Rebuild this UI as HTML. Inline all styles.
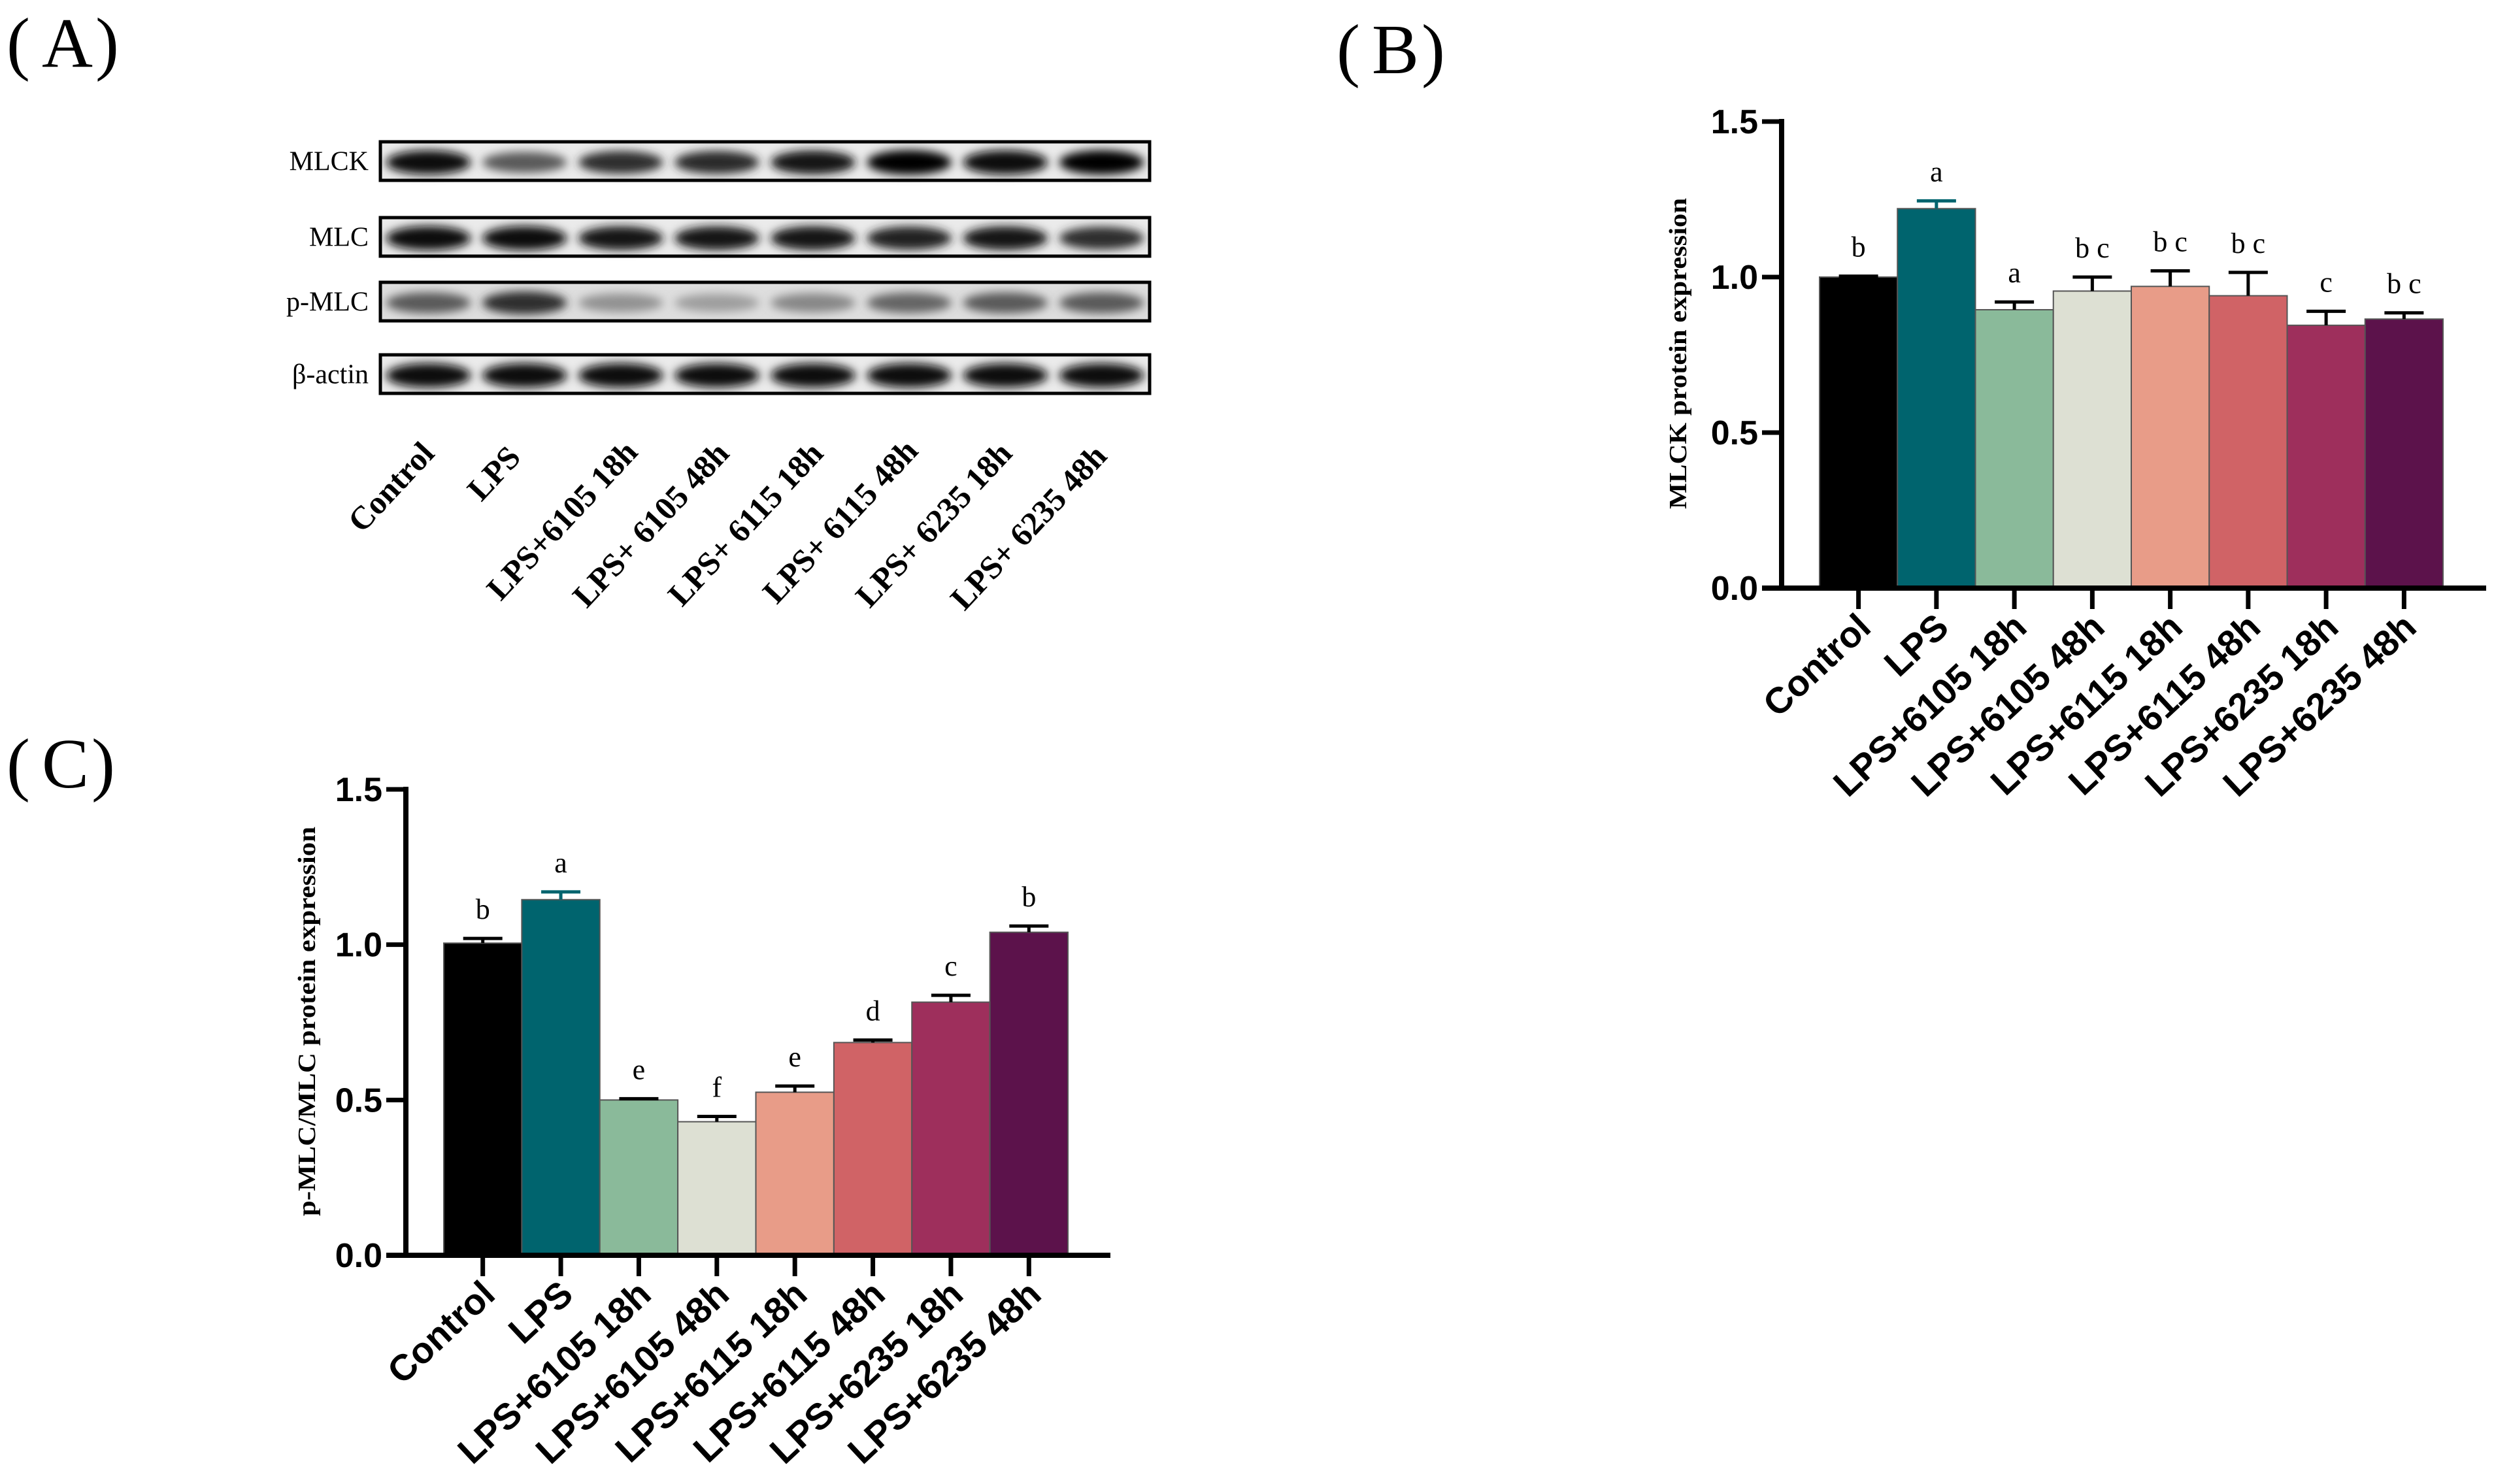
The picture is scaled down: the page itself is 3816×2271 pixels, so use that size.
<!DOCTYPE html>
<html><head><meta charset="utf-8"><style>
html,body{margin:0;padding:0;background:#fff;overflow:hidden;}
svg{display:block;}
</style></head><body>
<svg id="fig" width="3816" height="2271" viewBox="0 0 3816 2271" xmlns="http://www.w3.org/2000/svg">
<defs>
<filter id="blur" x="-30%" y="-80%" width="160%" height="260%"><feGaussianBlur stdDeviation="7"/></filter>
</defs>
<text x="10" y="102" font-family="Liberation Serif, serif" font-size="108">(<tspan dx="18">A</tspan><tspan dx="4">)</tspan></text>
<text x="2045" y="112" font-family="Liberation Serif, serif" font-size="108">(<tspan dx="18">B</tspan><tspan dx="4">)</tspan></text>
<text x="10" y="1205" font-family="Liberation Serif, serif" font-size="108">(<tspan dx="18">C</tspan><tspan dx="4">)</tspan></text>
<g id="blots"></g>
<g id="chartB"></g>
<g id="chartC"></g>
</svg>
<script>
const NS='http://www.w3.org/2000/svg';
const categories=['Control','LPS','LPS+6105 18h','LPS+6105 48h','LPS+6115 18h','LPS+6115 48h','LPS+6235 18h','LPS+6235 48h'];
const blotLanes=['Control','LPS','LPS+6105 18h','LPS+ 6105 48h','LPS+ 6115 18h','LPS+ 6115 48h','LPS+ 6235 18h','LPS+ 6235 48h'];
const colors=['#000000','#00646e','#8aba9a','#dde0d3','#e89c88','#d06366','#9e2f5c','#5c124b'];
const mlckValues=[1.0,1.22,0.895,0.955,0.97,0.94,0.845,0.865];
const mlckErrors=[0.003,0.025,0.025,0.045,0.05,0.075,0.045,0.02];
const mlckLetters=['b','a','a','bc','bc','bc','c','bc'];
const pmlcValues=[1.005,1.145,0.50,0.43,0.525,0.685,0.815,1.04];
const pmlcErrors=[0.015,0.025,0.004,0.017,0.02,0.008,0.022,0.02];
const pmlcLetters=['b','a','e','f','e','d','c','b'];
const yTicks=[0,0.5,1.0,1.5];
const yTickLabels=['0.0','0.5','1.0','1.5'];
const blotRows=['MLCK','MLC','p-MLC','β-actin'];
const mlckBand=[0.95,0.6,0.8,0.82,0.9,1.0,0.97,0.98];
const mlcBand=[0.95,0.95,0.9,0.9,0.92,0.85,0.9,0.8];
const pmlcBand=[0.6,0.8,0.35,0.3,0.4,0.55,0.6,0.6];
const actinBand=[0.97,0.97,0.97,0.95,0.95,0.97,0.95,0.95];

function el(tag,attrs,parent){const e=document.createElementNS(NS,tag);for(const k in attrs)e.setAttribute(k,attrs[k]);parent.appendChild(e);return e;}

function drawChart(g,cfg){
  const {axX,y0,y15,barL,barR,axEnd,values,errors,letters,title,titleX,titleY,titleLen}=cfg;
  const ys=v=>y0-(y0-y15)*v/1.5;
  const bw=(barR-barL)/values.length;
  const xs=i=>barL+bw*(i+0.5);
  values.forEach((v,i)=>{
    const r=el('rect',{x:barL+bw*i,y:ys(v),width:bw,height:y0-ys(v),fill:colors[i],stroke:'#555',"stroke-width":2},g);
    
    
    const ec=i===1?colors[1]:'#000';
    const top=ys(v+errors[i]);
    const l=el('path',{d:`M${xs(i)},${ys(v)} V${top} M${xs(i)-30},${top} H${xs(i)+30}`,stroke:ec,"stroke-width":5,fill:'none'},g);
    
    
    const t=el('text',{x:xs(i),y:top-30,"text-anchor":'middle',"font-family":'Liberation Serif, serif',"font-size":44},g);
    t.textContent=letters[i].split('').join(' ');
    
    
    const tk=el('line',{x1:xs(i),x2:xs(i),y1:y0,y2:y0+32,stroke:'#000',"stroke-width":7},g);
    
    
    const lb=el('text',{transform:`translate(${xs(i)+22},${y0+64}) rotate(-43)`,"text-anchor":'end',"font-family":'Liberation Sans, Arial, sans-serif',"font-weight":'bold',"font-size":56},g);
    lb.textContent=categories[i];
    
    
  });
  const ax=el('path',{d:`M${axX},${y15-4} V${y0} M${axX-30},${y0} H${axEnd}`,stroke:'#000',"stroke-width":8,fill:'none'},g);
  
  
  yTicks.forEach((v,i)=>{
    const tk=el('line',{x1:axX-30,x2:axX,y1:ys(v),y2:ys(v),stroke:'#000',"stroke-width":7},g);
    
    
    const t=el('text',{x:axX-36,y:ys(v)+18,"text-anchor":'end',"font-family":'Liberation Sans, Arial, sans-serif',"font-weight":'bold',"font-size":52},g);
    t.textContent=yTickLabels[i];
    
    
  });
  const tt=el('text',{transform:`translate(${titleX},${titleY}) rotate(-90)`,"text-anchor":'middle',"font-family":'Liberation Serif, serif',"font-weight":'bold',"font-size":38,textLength:titleLen,lengthAdjust:'spacingAndGlyphs'},g);
  tt.textContent=title;
  
  
}

drawChart(document.getElementById('chartB'),{axX:2726,y0:900,y15:186,barL:2784,barR:3738,axEnd:3804,values:mlckValues,errors:mlckErrors,letters:mlckLetters,title:'MLCK protein expression',titleX:2580,titleY:541,titleLen:476});
drawChart(document.getElementById('chartC'),{axX:621,y0:1921,y15:1208,barL:679,barR:1634,axEnd:1699,values:pmlcValues,errors:pmlcErrors,letters:pmlcLetters,title:'p-MLC/MLC protein expression',titleX:482,titleY:1563,titleLen:596});

// western blot
(function(){
  const g=document.getElementById('blots');
  const rows=[[217,276,mlckBand],[333,392,mlcBand],[432,491,pmlcBand],[543,602,actinBand]];
  const bx=582,bxr=1759,lw=(bxr-bx)/8;
  rows.forEach((r,ri)=>{
    const [t,b,band]=r;
    const bg=el('rect',{x:bx,y:t,width:bxr-bx,height:b-t,fill:ri===2?'#dedede':'#ebebeb'},g);
    
    
    band.forEach((v,i)=>{
      const c=Math.round(225-225*v);
      const e=el('ellipse',{cx:bx+lw*(i+0.5),cy:(t+b)/2+2,rx:lw*0.44,ry:(b-t)*(0.2+0.12*v),fill:`rgb(${c},${c},${c})`,filter:'url(#blur)'},g);
      
      
    });
    const fr=el('rect',{x:bx,y:t,width:bxr-bx,height:b-t,fill:'none',stroke:'#000',"stroke-width":5},g);
    
    
    const lt=el('text',{x:bx-18,y:(t+b)/2+14,"text-anchor":'end',"font-family":'Liberation Serif, serif',"font-size":42},g);
    lt.textContent=blotRows[ri];
    
    
  });
  const endX=[667,799,978,1118,1262,1407,1551,1696];
  const endY=[696,702,694,696,696,692,696,700];
  blotLanes.forEach((s,i)=>{
    const t=el('text',{transform:`translate(${endX[i]},${endY[i]}) rotate(-47)`,"text-anchor":'end',"font-family":'Liberation Serif, serif',"font-weight":'bold',"font-size":50},g);
    t.textContent=s;
    
    
  });
})();
</script>
</body></html>
